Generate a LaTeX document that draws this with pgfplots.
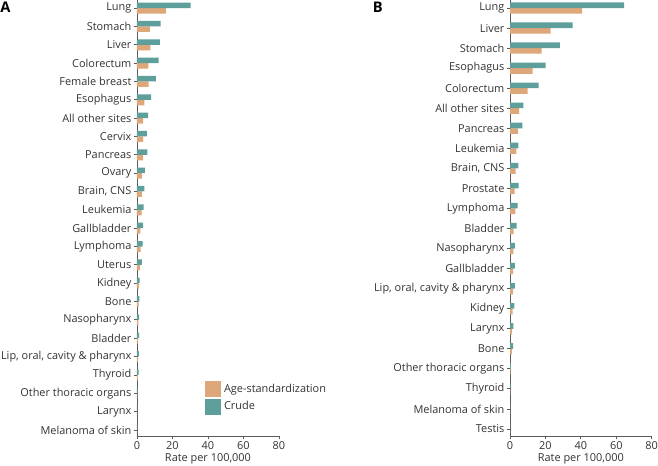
\documentclass[border=0pt]{standalone}
\usepackage{pgfplots}
\pgfplotsset{compat=1.18}
\usepackage{fontspec}
\setmainfont{Open Sans}
\definecolor{crude}{HTML}{5E9E9B}
\definecolor{agestd}{HTML}{DDA77A}
\definecolor{txt}{HTML}{333333}
\pgfplotsset{
  myax/.style={
    scale only axis,
    anchor=south west,
    xmin=0, xmax=80,
    xtick={0,20,40,60,80},
    y dir=reverse,
    axis x line*=bottom,
    axis y line*=left,
    axis line style={color=txt!80, line width=0.6pt},
    tick style={color=txt!80, line width=0.6pt},
    tick align=outside,
    major tick length=2.5pt,
    ytick pos=left,
    xtick pos=bottom,
    ticklabel style={font=\fontsize{8.2}{10}\selectfont, color=txt},
    xticklabel style={yshift=1.5pt},
    yticklabel style={inner xsep=1.5pt},
    label style={font=\fontsize{8.2}{10}\selectfont, color=txt},
    /pgf/number format/assume math mode=true,
    xlabel={Rate per 100,000},
    xlabel style={yshift=4pt},
    xbar,
    every axis plot/.append style={draw=none},
    xtick align=outside,
  }
}
\begin{document}
\begin{tikzpicture}
\useasboundingbox (0,0) rectangle (493.5pt,349.5pt);
% Panel A
\begin{axis}[myax,
  at={(102.75pt,22.5pt)}, width=106.5pt, height=327pt,
  ymin=-0.44, ymax=23.33,
  bar width=0.3,
  ytick={0,...,23},
  yticklabels={Lung,Stomach,Liver,Colorectum,Female breast,Esophagus,All other sites,Cervix,Pancreas,Ovary,{Brain, CNS},Leukemia,Gallbladder,Lymphoma,Uterus,Kidney,Bone,Nasopharynx,Bladder,{Lip, oral, cavity \& pharynx},Thyroid,Other thoracic organs,Larynx,Melanoma of skin},
  legend style={draw=none, fill=none, at={(0.47,0.045)}, anchor=south west, font=\fontsize{8.2}{10}\selectfont, text=txt, row sep=1pt, inner sep=1pt},
  legend cell align=left,
  legend image code/.code={\fill[#1] (0pt,-6pt) rectangle (12pt,6pt);},
]
\addplot[fill=agestd, bar shift=0.15] coordinates {
(16.3,0) (7.3,1) (7.5,2) (6.4,3) (6.6,4) (4.1,5) (3.5,6) (3.5,7) (3.4,8) (2.8,9) (2.8,10) (2.6,11) (1.9,12) (2.1,13) (1.6,14) (1.0,15) (0.9,16) (0.8,17) (0.6,18) (0.6,19) (0.5,20) (0.2,21) (0.1,22) (0.1,23)};
\addlegendentry{Age-standardization}
\addplot[fill=crude, bar shift=-0.15] coordinates {
(30.2,0) (13.3,1) (12.9,2) (12.2,3) (10.7,4) (7.9,5) (6.2,6) (5.6,7) (5.8,8) (4.5,9) (4.1,10) (3.8,11) (3.4,12) (3.2,13) (2.8,14) (1.5,15) (1.3,16) (1.2,17) (1.2,18) (1.1,19) (0.9,20) (0.4,21) (0.2,22) (0.2,23)};
\addlegendentry{Crude}
\end{axis}
% Panel B
\begin{axis}[myax,
  at={(382.5pt,22.5pt)}, width=106.3pt, height=327pt,
  ymin=-0.4, ymax=21.35,
  bar width=0.28,
  ytick={0,...,21},
  yticklabels={Lung,Liver,Stomach,Esophagus,Colorectum,All other sites,Pancreas,Leukemia,{Brain, CNS},Prostate,Lymphoma,Bladder,Nasopharynx,Gallbladder,{Lip, oral, cavity \& pharynx},Kidney,Larynx,Bone,Other thoracic organs,Thyroid,Melanoma of skin,Testis},
]
\addplot[fill=agestd, bar shift=0.14] coordinates {
(40.7,0) (23.0,1) (17.9,2) (12.8,3) (10.0,4) (5.1,5) (4.5,6) (3.6,7) (3.2,8) (2.6,9) (3.0,10) (2.1,11) (1.9,12) (1.7,13) (1.7,14) (1.5,15) (1.1,16) (1.1,17) (0.3,18) (0.2,19) (0.1,20) (0.1,21)};
\addplot[fill=crude, bar shift=-0.14] coordinates {
(64.4,0) (35.4,1) (28.2,2) (20.1,3) (16.2,4) (7.5,5) (7.0,6) (4.7,7) (4.7,8) (4.9,9) (4.3,10) (3.8,11) (2.8,12) (2.8,13) (2.8,14) (2.4,15) (1.9,16) (1.7,17) (0.5,18) (0.4,19) (0.2,20) (0.1,21)};
\end{axis}
\node[anchor=north west, font=\bfseries\fontsize{11}{12}\selectfont, text=black, inner sep=0pt] at (0pt,348pt) {A};
\node[anchor=north west, font=\bfseries\fontsize{11}{12}\selectfont, text=black, inner sep=0pt] at (279.5pt,348pt) {B};
\end{tikzpicture}
\end{document}
